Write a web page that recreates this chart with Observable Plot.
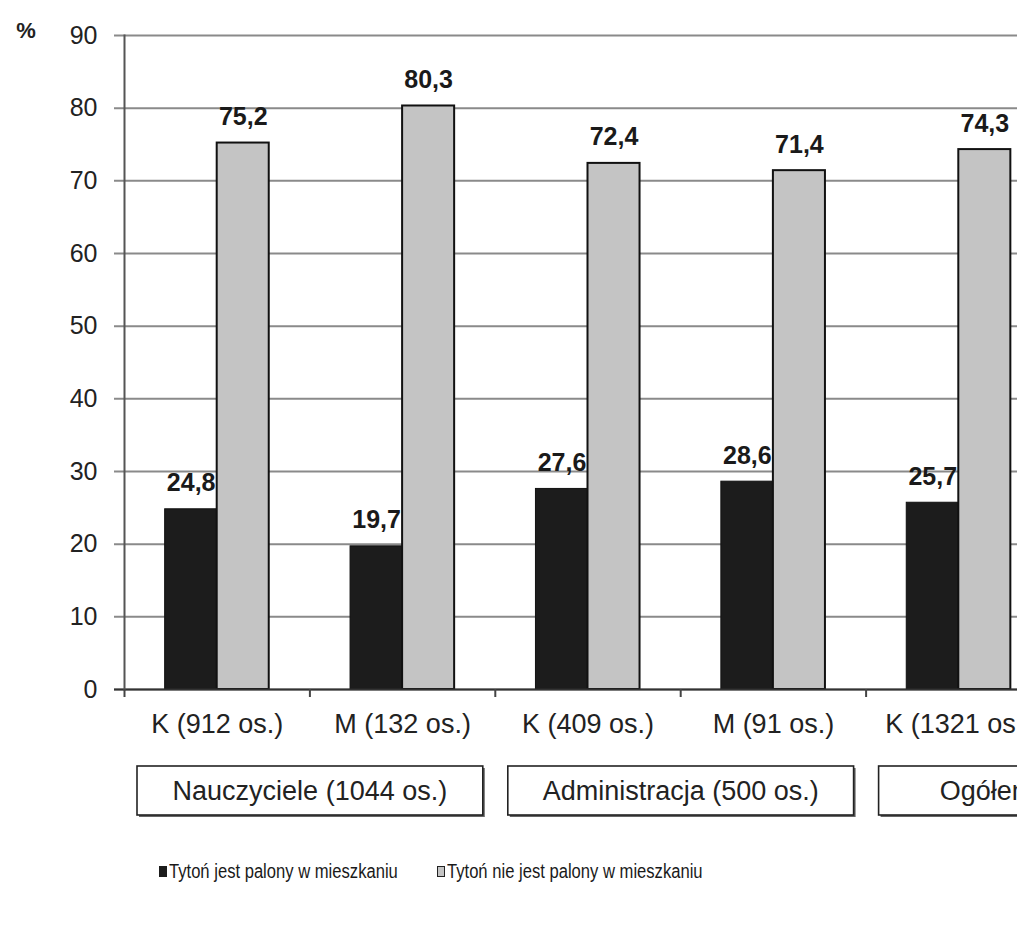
<!DOCTYPE html>
<html><head><meta charset="utf-8">
<script src="https://cdn.jsdelivr.net/npm/d3@7"></script>
<script src="https://cdn.jsdelivr.net/npm/@observablehq/plot@0.6"></script>
<style>
html,body{margin:0;padding:0;background:#fff;overflow:hidden;width:1017px;height:943px;position:relative}
#chart svg{display:block;overflow:visible;max-width:none !important}
.leg{position:absolute;top:860px;display:flex;align-items:center;font-family:"Liberation Sans",Arial,sans-serif;font-size:20px;color:#1a1a1a;white-space:nowrap}
.leg span{display:inline-block;transform:scaleX(0.83);transform-origin:left center}
.sw{width:8px;height:11px;margin-right:2px;box-sizing:border-box}
</style></head><body>
<div id="chart"></div>
<div id="legend"></div>
<script>
// ---- data ----
const categories = ["K (912 os.)", "M (132 os.)", "K (409 os.)", "M (91 os.)", "K (1321 os.)"];
const smoked     = [24.8, 19.7, 27.6, 28.6, 25.7];
const notSmoked  = [75.2, 80.3, 72.4, 71.4, 74.3];
const groups     = ["Nauczyciele (1044 os.)", "Administracja (500 os.)", "Ogółem (1544 os.)"];
const seriesNames = ["Tytoń jest palony w mieszkaniu", "Tytoń nie jest palony w mieszkaniu"];
const yTicks     = [0, 10, 20, 30, 40, 50, 60, 70, 80, 90];

// ---- layout ----
const W = 1051, H = 830, mL = 124, mT = 35, mB = 141, mR = 0;
const padIn = 0.4386, padOut = padIn / 2;
const step = (W - mL - mR) / (categories.length - padIn + 2 * padOut);
const bw = step * (1 - padIn);
const half = bw / 2;
const font = '"Liberation Sans", Arial, sans-serif';
const fmt = v => v.toFixed(1).replace(".", ",");

const data = categories.map((c, i) => ({cat: c, smoked: smoked[i], not: notSmoked[i]}));

const plot = Plot.plot({
  width: W, height: H,
  marginLeft: mL, marginRight: mR, marginTop: mT, marginBottom: mB,
  style: {fontFamily: font, color: "#222", background: "#fff", maxWidth: "none"},
  x: {type: "band", domain: categories, paddingInner: padIn, paddingOuter: padOut, round: false, label: null},
  y: {domain: [0, 90], ticks: yTicks, label: null},
  marks: [
    Plot.ruleY(yTicks, {stroke: "#8a8a8a", strokeWidth: 2, insetLeft: -10}),
    Plot.axisY({ticks: yTicks, tickSize: 0, tickPadding: 27, fontSize: 25, label: null, tickFormat: d => String(d)}),
    Plot.barY(data, {x: "cat", y: "smoked", fill: "#1c1c1c", stroke: "#111", strokeWidth: 1, insetRight: half}),
    Plot.barY(data, {x: "cat", y: "not", fill: "#c4c4c4", stroke: "#111", strokeWidth: 2, insetLeft: half}),
    Plot.text(data, {x: "cat", y: "smoked", text: d => fmt(d.smoked), dx: -half / 2, dy: -18, lineAnchor: "bottom", fontWeight: "bold", fontSize: 25, fill: "#1a1a1a"}),
    Plot.text(data, {x: "cat", y: "not", text: d => fmt(d.not), dx: half / 2, dy: -18, lineAnchor: "bottom", fontWeight: "bold", fontSize: 25, fill: "#1a1a1a"}),
    Plot.ruleY([0], {stroke: "#333", strokeWidth: 2, insetLeft: -10}),
    Plot.frame({anchor: "left", stroke: "#555", strokeWidth: 2}),
    Plot.axisX({tickSize: 8, tickFormat: () => "", dx: -step / 2, stroke: "#444", strokeWidth: 2, label: null}),
    Plot.axisX({tickSize: 0, tickPadding: 24, fontSize: 27, label: null, fill: "#222"})
  ]
});
document.getElementById("chart").appendChild(plot);

// ---- group boxes below the axis (positioned with the plot's x scale) ----
const xs = plot.scale("x");
const band = d3.scaleBand().domain(xs.domain).range(xs.range).paddingInner(xs.paddingInner ?? padIn).paddingOuter(xs.paddingOuter ?? padOut);
const st = band.step(), bwd = band.bandwidth();
const boundary = i => i < categories.length ? band(categories[i]) - (st - bwd) / 2 : band(categories[categories.length - 1]) - (st - bwd) / 2 + (i - categories.length + 1) * st;
const yScale = plot.scale("y");
const y0 = yScale.range[0];
const svg = d3.select(plot);
const g = svg.append("g");
groups.forEach((name, k) => {
  const x1 = boundary(2 * k) + 13, x2 = boundary(2 * k + 2) - 12;
  const top = y0 + 77, h = 49;
  g.append("rect").attr("x", x1 + 2).attr("y", top + 2).attr("width", x2 - x1).attr("height", h).attr("fill", "#666");
  g.append("rect").attr("x", x1).attr("y", top).attr("width", x2 - x1).attr("height", h).attr("fill", "#fff").attr("stroke", "#222").attr("stroke-width", 1.6);
  g.append("text").attr("x", (x1 + x2) / 2).attr("y", top + h / 2).attr("dy", "0.35em").attr("text-anchor", "middle")
    .attr("font-family", font).attr("font-size", 27).attr("fill", "#222").text(name);
});
// "%" unit label
svg.append("text").attr("x", 26).attr("y", 38).attr("text-anchor", "middle").attr("font-family", font)
  .attr("font-size", 22).attr("font-weight", "bold").attr("fill", "#222").text("%");

// ---- legend ----
const leg = document.getElementById("legend");
const swatches = [{fill: "#1c1c1c", border: "#1c1c1c"}, {fill: "#c4c4c4", border: "#222"}];
const lefts = [159, 437];
seriesNames.forEach((s, i) => {
  const item = document.createElement("div");
  item.className = "leg";
  item.style.left = lefts[i] + "px";
  item.innerHTML = `<div class="sw" style="background:${swatches[i].fill};border:1.5px solid ${swatches[i].border}"></div><span>${s}</span>`;
  leg.appendChild(item);
});
</script>
</body></html>
